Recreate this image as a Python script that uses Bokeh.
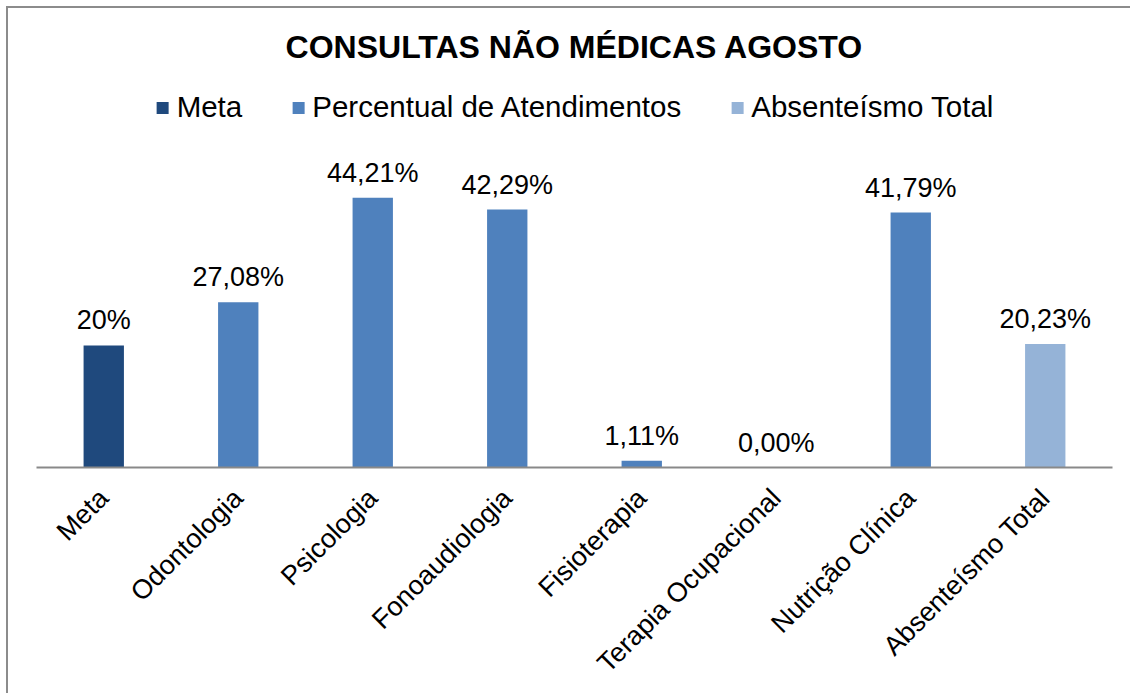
import math
from bokeh.plotting import figure
from bokeh.models import ColumnDataSource, InlineStyleSheet
from bokeh.core.properties import value
from bokeh.embed import file_html
from bokeh.resources import INLINE

categories = ["Meta", "Odontologia", "Psicologia", "Fonoaudiologia", "Fisioterapia",
              "Terapia Ocupacional", "Nutrição Clínica", "Absenteísmo Total"]
values = [20.0, 27.08, 44.21, 42.29, 1.11, 0.00, 41.79, 20.23]
value_labels = ["20%", "27,08%", "44,21%", "42,29%", "1,11%", "0,00%", "41,79%", "20,23%"]
series = ["Meta", "Percentual de Atendimentos", "Percentual de Atendimentos",
          "Percentual de Atendimentos", "Percentual de Atendimentos",
          "Percentual de Atendimentos", "Percentual de Atendimentos", "Absenteísmo Total"]
series_colors = {"Meta": "#1F497D", "Percentual de Atendimentos": "#4F81BD",
                 "Absenteísmo Total": "#95B3D7"}

FONT = "Liberation Sans"

src = ColumnDataSource(dict(
    cat=categories, val=values, lab=value_labels, ser=series,
    col=[series_colors[s] for s in series],
))

W, H = 1130, 693
ML, MR, MT, MB = 36, 18, 80, 226

p = figure(x_range=categories, y_range=(0, 63.44), width=W, height=H,
           output_backend="svg", toolbar_location=None,
           min_border_left=ML, min_border_right=MR, min_border_top=MT, min_border_bottom=MB)

p.vbar(x="cat", top="val", width=0.3, source=src, fill_color="col", line_color=None,
       legend_field="ser")

p.text(x="cat", y="val", text="lab", source=src, text_align="center",
       text_baseline="alphabetic", y_offset=-25, text_font=value(FONT),
       text_font_size="27px", text_color="#000000")

p.title.text = "CONSULTAS NÃO MÉDICAS AGOSTO"
p.title.align = "center"
p.title.text_font = FONT
p.title.text_font_size = "32px"
p.title.text_font_style = "bold"
p.title.text_color = "#000000"
p.title.standoff = 32

leg = p.legend[0]
leg.location = "top_center"
leg.orientation = "horizontal"
leg.label_text_font = FONT
leg.label_text_font_size = "29.5px"
leg.label_text_color = "#000000"
leg.glyph_width = 15
leg.glyph_height = 15
leg.spacing = 48
leg.label_standoff = 7
leg.padding = 2
leg.margin = 10
leg.border_line_color = None
leg.background_fill_alpha = 0

p.yaxis.visible = False
p.xgrid.visible = False
p.ygrid.visible = False
p.outline_line_color = None

ax = p.xaxis[0]
ax.axis_line_color = "#898989"
ax.axis_line_width = 2
ax.major_tick_line_color = None
ax.minor_tick_line_color = None
ax.major_label_orientation = math.pi / 4
ax.major_label_text_font = FONT
ax.major_label_text_font_size = "27px"
ax.major_label_text_color = "#000000"
ax.major_label_standoff = 20

# chart's outer border (only its top and left edges fall inside the picture)
p.border_fill_color = "#ffffff"
p.stylesheets = [InlineStyleSheet(css=(
    ":host::after { content: ''; position: absolute; left: 6px; top: 6px; right: 0; bottom: 0;"
    " border-left: 2px solid #8c8c8c; border-top: 2px solid #8c8c8c;"
    " pointer-events: none; z-index: 100; }"
))]

open("out.html", "w").write(file_html(p, INLINE))
